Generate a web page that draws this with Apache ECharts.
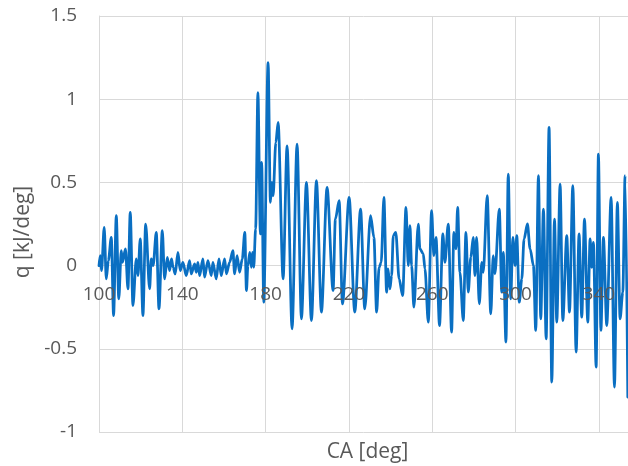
<!DOCTYPE html>
<html>
<head>
<meta charset="utf-8">
<script src="https://cdn.jsdelivr.net/npm/echarts@6/dist/echarts.min.js"></script>
<style>html,body{margin:0;padding:0;background:#fff;}#c{width:628px;height:466px;}</style>
</head>
<body>
<div id="c"></div>
<script>
var caDeg = [100.0,100.6,101.2,102.5,103.5,104.5,105.9,107.0,108.3,109.5,110.7,111.3,112.7,113.9,115.0,116.3,117.9,118.7,119.8,121.1,122.4,124.3,125.1,126.0,127.5,128.8,130.4,131.5,132.8,133.9,134.8,135.6,136.6,137.9,139.0,
140.3,141.9,143.5,144.3,145.9,146.7,147.5,148.3,149.9,150.7,152.3,153.9,154.7,156.3,157.6,158.7,160.3,161.2,162.7,164.3,165.1,166.3,167.5,168.8,170.0,170.8,171.5,172.4,173.2,173.7,174.3,175.2,176.3,177.5,178.1,179.1,
181.2,182.3,183.0,183.6,184.9,186.0,188.4,190.3,192.7,195.1,197.2,199.6,202.0,204.4,206.8,209.5,212.4,213.5,215.3,216.9,220.1,222.8,225.6,227.6,230.4,232.0,233.3,234.5,235.5,236.8,238.1,238.8,239.7,
240.5,241.3,242.5,244.1,245.8,247.4,248.5,249.3,250.1,251.2,253.3,254.1,255.7,256.5,258.1,259.7,260.8,261.8,263.5,265.1,266.1,267.7,269.3,270.4,271.4,272.2,273.3,274.9,276.2,277.3,278.5,279.7,
280.5,281.3,282.6,283.8,284.5,286.4,288.1,289.3,290.1,292.2,293.4,294.1,295.4,296.5,297.7,298.7,299.8,300.6,301.8,303.0,304.1,305.7,307.0,308.6,309.7,311.0,312.1,313.4,314.7,316.1,317.4,318.7,319.8,
321.4,322.7,324.6,325.9,327.5,329.1,330.5,331.8,333.1,334.7,335.8,336.6,337.4,338.7,339.8,341.0,342.2,343.8,345.9,347.5,348.9,350.2,351.5,352.6,353.9];
var qVal = [0.00,0.06,-0.03,0.23,-0.08,0.03,0.17,-0.30,0.30,-0.20,0.09,0.02,0.10,-0.14,0.32,-0.24,0.04,-0.06,0.16,-0.30,0.25,-0.14,0.04,0.00,0.20,-0.26,0.21,-0.08,0.05,-0.03,0.04,-0.01,-0.05,0.08,-0.03,
0.02,-0.06,0.03,-0.05,0.01,-0.04,0.02,-0.06,0.04,-0.07,0.03,-0.06,0.02,-0.08,0.04,-0.06,0.04,-0.05,0.02,0.09,-0.05,0.06,-0.04,0.04,0.20,-0.15,0.00,0.08,-0.01,0.08,-0.01,0.22,1.04,0.19,0.62,-0.22,
1.22,0.38,0.50,0.42,0.74,0.86,-0.08,0.72,-0.38,0.73,-0.32,0.50,-0.33,0.51,-0.28,0.47,-0.15,0.28,0.39,-0.23,0.41,-0.28,0.34,-0.26,0.30,0.17,-0.28,-0.01,0.02,0.41,-0.16,-0.02,-0.14,
-0.06,0.18,0.20,-0.08,-0.18,0.35,0.00,0.24,0.00,-0.25,0.25,0.10,0.07,-0.02,-0.34,0.33,0.06,0.17,-0.36,0.19,0.02,0.25,-0.40,0.20,0.10,0.35,-0.04,-0.33,0.20,-0.16,0.05,0.17,
-0.06,0.17,-0.23,0.02,-0.04,0.42,-0.29,0.06,-0.05,0.34,-0.16,0.08,-0.46,0.55,-0.20,0.17,0.00,0.18,-0.22,-0.08,0.16,0.25,0.10,0.00,-0.39,0.54,-0.32,0.34,-0.44,0.83,-0.70,0.28,-0.34,
0.49,-0.33,0.18,-0.28,0.48,-0.52,0.19,-0.31,0.28,-0.34,0.16,-0.01,0.14,-0.61,0.67,-0.39,0.17,-0.36,0.41,-0.73,0.38,-0.32,-0.16,0.54,-0.79];
var xMin = 100, xMax = 354, xStep = 40;
var yMin = -1, yMax = 1.5, yStep = 0.5;
var xTitle = 'CA [deg]';
var yTitle = 'q [kJ/deg]';

var pts = caDeg.map(function (v, i) { return [v, qVal[i]]; });
var gridGray = '#d9d9d9';
var textGray = '#595959';
var fam = '"Open Sans", "Liberation Sans", sans-serif';

var chart = echarts.init(document.getElementById('c'), null, {renderer: 'canvas'});
chart.setOption({
  animation: false,
  backgroundColor: '#ffffff',
  grid: {left: 99, right: 0, top: 16, bottom: 34, containLabel: false},
  xAxis: [{
    type: 'value', min: xMin, max: xMax, interval: xStep, position: 'bottom',
    axisLine: {show: false, onZero: false},
    axisTick: {show: false},
    axisLabel: {show: false},
    splitLine: {show: true, lineStyle: {color: gridGray, width: 1}},
    z: 0
  }, {
    type: 'value', min: xMin, max: xMax, interval: xStep, position: 'bottom', offset: 0,
    axisLine: {show: false, onZero: false},
    axisTick: {show: false},
    axisLabel: {show: true, color: textGray, fontSize: 19, fontFamily: fam, margin: 18, showMaxLabel: false},
    splitLine: {show: false},
    z: 5
  }],
  yAxis: {
    type: 'value', min: yMin, max: yMax, interval: yStep,
    axisLine: {show: true, onZero: false, lineStyle: {color: gridGray, width: 1}},
    axisTick: {show: false},
    axisLabel: {color: textGray, fontSize: 19, fontFamily: fam, margin: 22},
    splitLine: {show: true, lineStyle: {color: gridGray, width: 1}},
    name: yTitle, nameLocation: 'middle', nameGap: 62,
    nameTextStyle: {color: textGray, fontSize: 21, fontFamily: fam, padding: [0, 16, 0, 0]}
  },
  series: [{
    type: 'line', xAxisIndex: 0, data: pts, showSymbol: false, symbol: 'none',
    smooth: 0.3, smoothMonotone: 'x',
    lineStyle: {color: '#0a6fc2', width: 2.75, join: 'round', cap: 'round'},
    clip: true, z: 2
  }]
});
var pBottom = chart.convertToPixel({gridIndex: 0}, [xMin, yMin]);
var pZero = chart.convertToPixel({gridIndex: 0}, [xMin, 0]);
var pRight = chart.convertToPixel({gridIndex: 0}, [xMax, yMin]);
chart.setOption({
  xAxis: [{}, {offset: pZero[1] - pBottom[1]}],
  graphic: [{
    type: 'text', x: (pBottom[0] + pRight[0]) / 2 + 4, y: pBottom[1] + 23,
    style: {text: xTitle, fill: textGray, font: '21px ' + fam, textAlign: 'center', textVerticalAlign: 'middle'}
  }]
});
</script>
</body>
</html>
